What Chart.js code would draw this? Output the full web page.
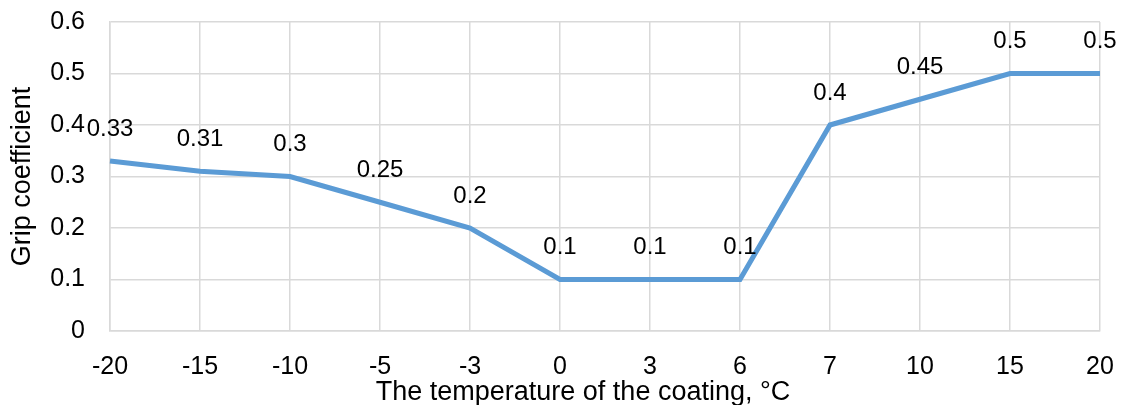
<!DOCTYPE html>
<html>
<head>
<meta charset="utf-8">
<script src="https://cdn.jsdelivr.net/npm/chart.js@4/dist/chart.umd.min.js"></script>
<style>
  html, body { margin: 0; padding: 0; background: #fff; }
  #wrap { width: 1122px; height: 405px; }
</style>
</head>
<body>
<div id="wrap"><canvas id="grip"></canvas></div>
<script>
"use strict";

// data
const temperatures = ['-20', '-15', '-10', '-5', '-3', '0', '3', '6', '7', '10', '15', '20'];
const gripValues = [0.33, 0.31, 0.3, 0.25, 0.2, 0.1, 0.1, 0.1, 0.4, 0.45, 0.5, 0.5];
const yTicks = [0, 0.1, 0.2, 0.3, 0.4, 0.5, 0.6];
const xTitle = 'The temperature of the coating, °C';

const fontFamily = '"Liberation Sans", Arial, sans-serif';
const gridColor = '#d9d9d9';
const tickSize = 25;
const titleSize = 27;
const labelSize = 24;

// labels above each point
const pointLabels = {
  id: 'pointLabels',
  afterDatasetsDraw(chart) {
    const ctx = chart.ctx;
    const meta = chart.getDatasetMeta(0);
    ctx.save();
    ctx.font = labelSize + 'px ' + fontFamily;
    ctx.fillStyle = '#000';
    ctx.textAlign = 'center';
    ctx.textBaseline = 'middle';
    meta.data.forEach((pt, i) => {
      ctx.fillText(String(gripValues[i]), pt.x, pt.y - 32);
    });
    ctx.restore();
  }
};

// x title sits a little left of the plot centre, like the original
const bottomTitle = {
  id: 'bottomTitle',
  afterDraw(chart) {
    const ctx = chart.ctx;
    const area = chart.chartArea;
    ctx.save();
    ctx.font = titleSize + 'px ' + fontFamily;
    ctx.fillStyle = '#000';
    ctx.textAlign = 'center';
    ctx.textBaseline = 'middle';
    ctx.fillText(xTitle, (area.left + area.right) / 2 - 22, chart.height - 12);
    ctx.restore();
  }
};

const config = {
  type: 'line',
  data: {
    labels: temperatures,
    datasets: [{
      data: gripValues,
      borderColor: '#5b9bd5',
      borderWidth: 5,
      pointRadius: 0,
      tension: 0,
      fill: false
    }]
  },
  options: {
    responsive: true,
    maintainAspectRatio: false,
    animation: false,
    layout: { padding: { left: 8, right: 22, top: 22, bottom: 0 } },
    plugins: {
      legend: { display: false },
      tooltip: { enabled: false }
    },
    scales: {
      x: {
        offset: false,
        afterFit(scale) {
          scale.height = 74;
          scale.paddingLeft = 0;
          scale.paddingRight = 0;
        },
        grid: { color: gridColor, lineWidth: 1.5, drawTicks: false },
        border: { color: gridColor, width: 1.5 },
        ticks: {
          color: '#000',
          font: { family: fontFamily, size: tickSize, lineHeight: 1 },
          padding: 24,
          maxRotation: 0,
          autoSkip: false
        }
      },
      y: {
        min: 0,
        max: 0.6,
        afterBuildTicks(axis) {
          axis.ticks = yTicks.map(v => ({ value: v }));
        },
        afterFit(scale) {
          scale.width = 102;
          scale.paddingTop = 0;
          scale.paddingBottom = 0;
        },
        grid: { color: gridColor, lineWidth: 1.5, drawTicks: false },
        border: { color: gridColor, width: 1.5 },
        ticks: {
          color: '#000',
          font: { family: fontFamily, size: tickSize, lineHeight: 1 },
          padding: 25,
          callback: v => String(Math.round(v * 10) / 10)
        },
        title: {
          display: true,
          text: 'Grip coefficient',
          color: '#000',
          font: { family: fontFamily, size: titleSize, lineHeight: 1 },
          padding: { top: 1, bottom: 4 }
        }
      }
    }
  },
  plugins: [pointLabels, bottomTitle]
};

const gripChart = new Chart(document.getElementById('grip'), config);
</script>
</body>
</html>
